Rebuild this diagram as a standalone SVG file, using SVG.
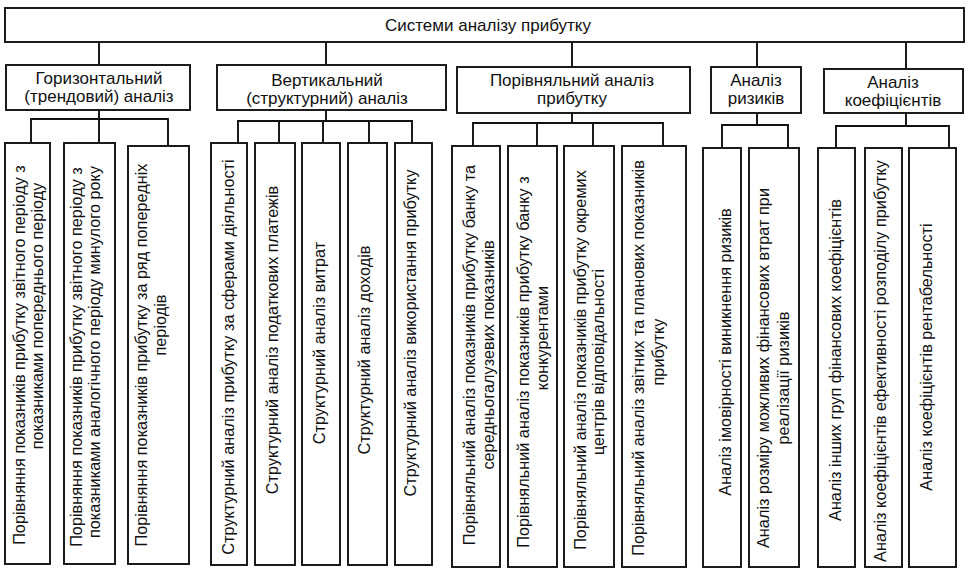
<svg xmlns="http://www.w3.org/2000/svg" width="970" height="576" viewBox="0 0 970 576">
<style>
  .box { fill: #ffffff; stroke: #111111; stroke-width: 1.9; }
  .ln { fill: none; stroke: #111111; stroke-width: 1.9; }
  text { font-family: "Liberation Sans", Arial, sans-serif; font-size: 17px; fill: #111111; }
  .c { text-anchor: middle; }
  .v { font-size: 16.3px; }
</style>
<rect width="970" height="576" fill="#ffffff"/>

<g id="connectors">
  <path class="ln" d="M99 42 V65 M326 42 V65 M572 42 V67 M757 42 V67 M906 42 V69"/>
  <path class="ln" d="M99 110 V119 M31 143 V119 H168 V146 M99 119 V143"/>
  <path class="ln" d="M326 110 V121 M238 143 V121 H412 V143 M279 121 V143 M323 121 V143 M369 121 V143"/>
  <path class="ln" d="M572 113 V123 M473 146 V123 H663 V146 M537 123 V146 M593 123 V146"/>
  <path class="ln" d="M757 113 V125 M722 148 V125 H788 V148"/>
  <path class="ln" d="M906 113 V126 M836 148 V126 H949 V148"/>
</g>

<g id="root">
  <rect class="box" x="5" y="8" width="959" height="34"/>
  <text class="c" x="488" y="31">Системи аналізу прибутку</text>
</g>

<g id="horizontal">
  <rect class="box" x="6" y="65" width="184" height="45"/>
  <text class="c" x="99" y="84">Горизонтальний</text>
  <text class="c" x="99" y="102">(трендовий) аналіз</text>
</g>
<g id="vertical">
  <rect class="box" x="217" y="65" width="229" height="45"/>
  <text class="c" x="327" y="86">Вертикальний</text>
  <text class="c" x="327" y="104">(структурний) аналіз</text>
</g>
<g id="comparative">
  <rect class="box" x="457" y="67" width="233" height="46"/>
  <text class="c" x="572" y="86">Порівняльний аналіз</text>
  <text class="c" x="572" y="104">прибутку</text>
</g>
<g id="risks">
  <rect class="box" x="711" y="67" width="90" height="46"/>
  <text class="c" x="756" y="86">Аналіз</text>
  <text class="c" x="756" y="104">ризиків</text>
</g>
<g id="coefficients">
  <rect class="box" x="824" y="69" width="139" height="44"/>
  <text class="c" x="893" y="88">Аналіз</text>
  <text class="c" x="893" y="106">коефіцієнтів</text>
</g>

<g id="h1">
  <rect class="box" x="5" y="143" width="45" height="421"/>
  <text class="c v" transform="translate(25 355) rotate(-90)">Порівняння показників прибутку звітного періоду з</text>
  <text class="c v" transform="translate(43 316) rotate(-90)">показниками попереднього періоду</text>
</g>
<g id="h2">
  <rect class="box" x="64" y="143" width="51" height="421"/>
  <text class="c v" transform="translate(82 357) rotate(-90)">Порівняння показників прибутку звітного періоду з</text>
  <text class="c v" transform="translate(100 352) rotate(-90)">показниками аналогічного періоду минулого року</text>
</g>
<g id="h3">
  <rect class="box" x="128" y="146" width="61" height="418"/>
  <text class="c v" transform="translate(147 355) rotate(-90)">Порівняння показників прибутку за ряд попередніх</text>
  <text class="c v" transform="translate(166 325) rotate(-90)">періодів</text>
</g>

<g id="v1">
  <rect class="box" x="211" y="143" width="36" height="422"/>
  <text class="c v" transform="translate(234 357) rotate(-90)">Структурний аналіз прибутку за сферами діяльності</text>
</g>
<g id="v2">
  <rect class="box" x="255" y="143" width="40" height="422"/>
  <text class="c v" transform="translate(278 340) rotate(-90)">Структурний аналіз податкових платежів</text>
</g>
<g id="v3">
  <rect class="box" x="302" y="143" width="38" height="422"/>
  <text class="c v" transform="translate(325 343) rotate(-90)">Структурний аналіз витрат</text>
</g>
<g id="v4">
  <rect class="box" x="348" y="143" width="39" height="422"/>
  <text class="c v" transform="translate(370 350) rotate(-90)">Структурний аналіз доходів</text>
</g>
<g id="v5">
  <rect class="box" x="395" y="143" width="37" height="422"/>
  <text class="c v" transform="translate(416 333) rotate(-90)">Структурний аналіз використання прибутку</text>
</g>

<g id="p1">
  <rect class="box" x="452" y="146" width="48" height="421"/>
  <text class="c v" transform="translate(475 355) rotate(-90)">Порівняльний аналіз показників прибутку банку та</text>
  <text class="c v" transform="translate(494 355) rotate(-90)">середньогалузевих показників</text>
</g>
<g id="p2">
  <rect class="box" x="508" y="146" width="49" height="421"/>
  <text class="c v" transform="translate(529 362) rotate(-90)">Порівняльний аналіз показників прибутку банку з</text>
  <text class="c v" transform="translate(548 338) rotate(-90)">конкурентами</text>
</g>
<g id="p3">
  <rect class="box" x="564" y="146" width="50" height="421"/>
  <text class="c v" transform="translate(586 360) rotate(-90)">Порівняльний аналіз показників прибутку окремих</text>
  <text class="c v" transform="translate(604 362) rotate(-90)">центрів відповідальності</text>
</g>
<g id="p4">
  <rect class="box" x="622" y="146" width="64" height="421"/>
  <text class="c v" transform="translate(644 358) rotate(-90)">Порівняльний аналіз звітних та планових показників</text>
  <text class="c v" transform="translate(664 352) rotate(-90)">прибутку</text>
</g>

<g id="r1">
  <rect class="box" x="703" y="148" width="38" height="419"/>
  <text class="c v" transform="translate(731 352) rotate(-90)">Аналіз імовірності виникнення ризиків</text>
</g>
<g id="r2">
  <rect class="box" x="749" y="148" width="50" height="419"/>
  <text class="c v" transform="translate(769 368) rotate(-90)">Аналіз розміру можливих фінансових втрат при</text>
  <text class="c v" transform="translate(789 378) rotate(-90)">реалізації ризиків</text>
</g>

<g id="k1">
  <rect class="box" x="818" y="148" width="37" height="419"/>
  <text class="c v" transform="translate(841 360) rotate(-90)">Аналіз інших груп фінансових коефіцієнтів</text>
</g>
<g id="k2">
  <rect class="box" x="865" y="148" width="37" height="419"/>
  <text class="c v" transform="translate(886 361) rotate(-90)">Аналіз коефіцієнтів ефективності розподілу прибутку</text>
</g>
<g id="k3">
  <rect class="box" x="909" y="148" width="47" height="419"/>
  <text class="c v" transform="translate(932 357) rotate(-90)">Аналіз коефіцієнтів рентабельності</text>
</g>
</svg>
